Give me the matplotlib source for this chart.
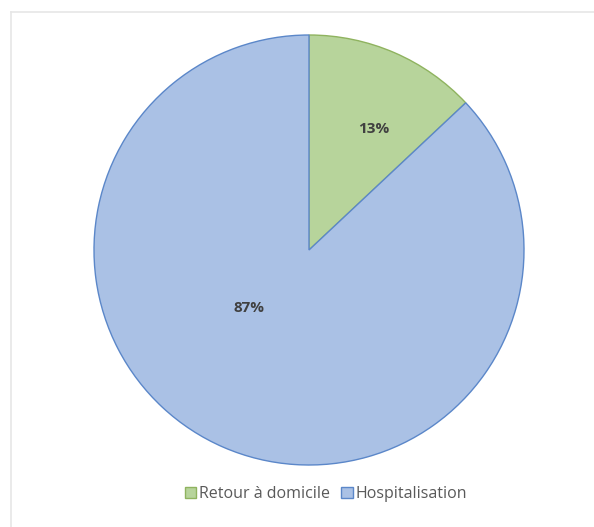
import matplotlib.pyplot as plt
from matplotlib.lines import Line2D
from matplotlib.patches import Patch

labels = ['Retour à domicile', 'Hospitalisation']
values = [13, 87]
fill_colors = ['#b7d49b', '#aac1e5']
edge_colors = ['#8fb35f', '#5b87c9']

W, H = 594, 527
fig = plt.figure(figsize=(W / 100, H / 100), dpi=100)
fig.patch.set_facecolor('white')

# faint chart-area frame (top and left edges only visible)
fig.add_artist(Line2D([10.5 / W, 1], [1 - 12 / H, 1 - 12 / H], color='#e6e6e6', lw=1.2))
fig.add_artist(Line2D([10.5 / W, 10.5 / W], [0, 1 - 12 / H], color='#e6e6e6', lw=1.2))

# pie: centre (309, 250), radius 215 px
cx, cy, r = 309, 250, 215
ax = fig.add_axes([(cx - r) / W, 1 - (cy + r) / H, 2 * r / W, 2 * r / H])
wedges, texts, autotexts = ax.pie(
    values, startangle=90, counterclock=False, colors=fill_colors,
    autopct='%1.0f%%', pctdistance=0.64,
    textprops=dict(color='#404040', fontsize=11, fontweight='bold', family='Open Sans'),
)
for w, ec in zip(wedges, edge_colors):
    w.set_edgecolor(ec)
    w.set_linewidth(1.0)
ax.set_xlim(-1, 1)
ax.set_ylim(-1, 1)
ax.set_aspect('equal')

# label placement inside each slice
autotexts[0].set_position((0.30, 0.565))
autotexts[1].set_position((-0.28, -0.27))

handles = [Patch(facecolor=fc, edgecolor=ec, label=lab)
           for fc, ec, lab in zip(fill_colors, edge_colors, labels)]
fig.legend(handles=handles, loc='center', bbox_to_anchor=(326 / W, 1 - 494 / H),
           ncol=2, frameon=False, handlelength=0.7, handleheight=0.7,
           handletextpad=0.2, columnspacing=0.7,
           prop=dict(family='Open Sans', size=11.5), labelcolor='#595959')

fig.savefig('out.png', dpi=100)
